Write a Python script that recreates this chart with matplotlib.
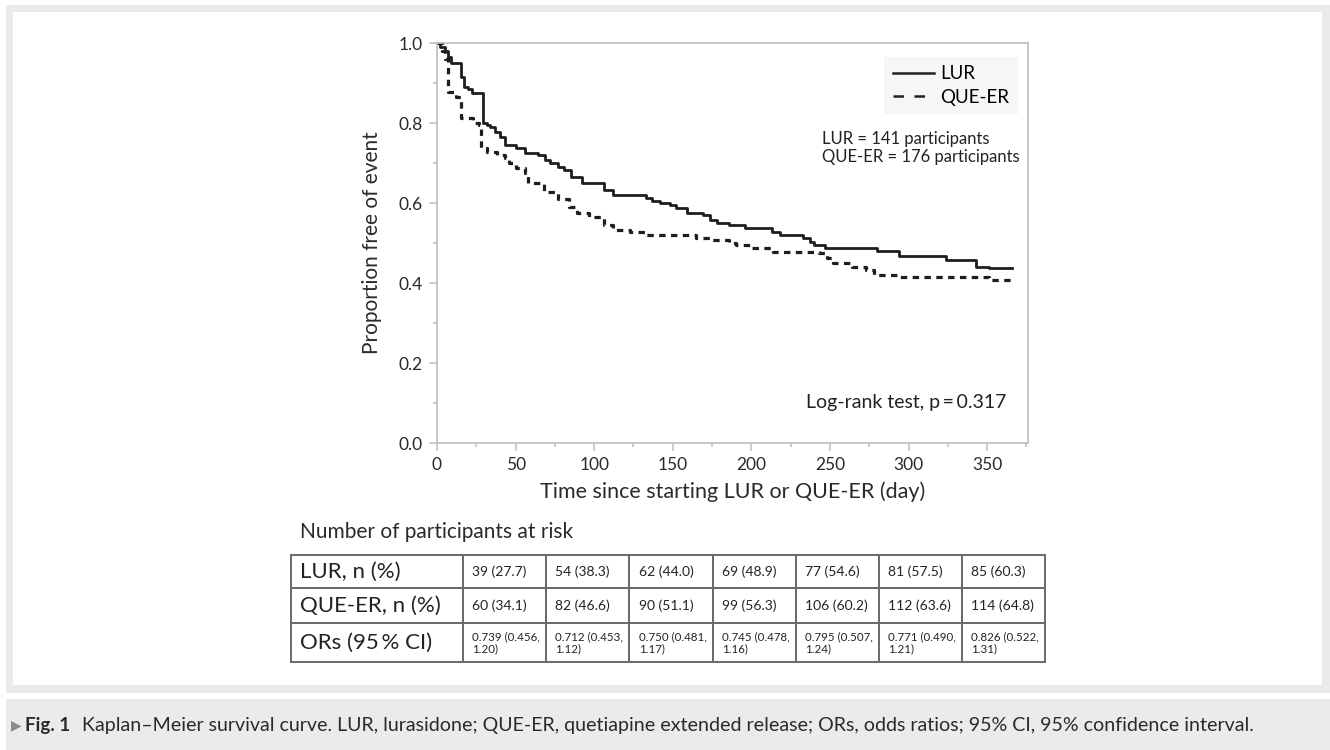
import matplotlib
matplotlib.use("Agg")
import matplotlib.pyplot as plt
from matplotlib.lines import Line2D
from matplotlib.patches import Rectangle

plt.rcParams["font.family"] = ["Lato", "DejaVu Sans"]

# Kaplan-Meier steps (day, proportion free of event)
lur_t = [0, 2, 5, 7, 9, 15, 17, 20, 22, 29, 32, 34, 37, 40, 43, 50, 56, 64, 69, 72,
         77, 81, 85, 92, 106, 112, 133, 137, 142, 148, 152, 159, 169, 174, 178, 186,
         196, 213, 218, 233, 237, 240, 247, 280, 294, 324, 343, 351, 366]
lur_s = [1.0, 0.99, 0.98, 0.965, 0.95, 0.915, 0.89, 0.885, 0.875, 0.80, 0.795, 0.79,
         0.778, 0.765, 0.745, 0.737, 0.725, 0.72, 0.708, 0.70, 0.69, 0.683, 0.665, 0.65,
         0.633, 0.62, 0.612, 0.605, 0.60, 0.595, 0.588, 0.575, 0.57, 0.558, 0.55, 0.545,
         0.538, 0.528, 0.52, 0.513, 0.503, 0.495, 0.488, 0.481, 0.468, 0.458, 0.44,
         0.437, 0.437]

que_t = [0, 3, 5, 7, 12, 15, 23, 27, 28, 32, 38, 43, 46, 50, 56, 58, 68, 77, 84, 89,
         97, 106, 112, 123, 133, 165, 175, 186, 190, 199, 214, 243, 248, 252, 264, 273,
         278, 294, 351, 366]
que_s = [1.0, 0.98, 0.96, 0.8775, 0.865, 0.8125, 0.80, 0.795, 0.7375, 0.7275, 0.72,
         0.7125, 0.70, 0.6875, 0.675, 0.65, 0.628, 0.61, 0.59, 0.575, 0.565, 0.545,
         0.5325, 0.5275, 0.52, 0.5125, 0.5075, 0.50, 0.495, 0.4875, 0.4775, 0.474,
         0.4625, 0.45, 0.44, 0.4325, 0.42, 0.415, 0.4075, 0.4075]

# numbers at risk table
lur_n = [39, 54, 62, 69, 77, 81, 85]
lur_pct = [27.7, 38.3, 44.0, 48.9, 54.6, 57.5, 60.3]
que_n = [60, 82, 90, 99, 106, 112, 114]
que_pct = [34.1, 46.6, 51.1, 56.3, 60.2, 63.6, 64.8]
or_est = [0.739, 0.712, 0.750, 0.745, 0.795, 0.771, 0.826]
or_lo = [0.456, 0.453, 0.481, 0.478, 0.507, 0.490, 0.522]
or_hi = [1.20, 1.12, 1.17, 1.16, 1.24, 1.21, 1.31]
row_labels = ["LUR, n (%)", "QUE-ER, n (%)", "ORs (95\u2009% CI)"]

W, H = 1330, 750
fig = plt.figure(figsize=(13.3, 7.5), dpi=100)

def px_rect(x0, y0, x1, y1, color):
    fig.patches.append(Rectangle((x0 / W, 1 - y1 / H), (x1 - x0) / W, (y1 - y0) / H,
                                 transform=fig.transFigure, facecolor=color,
                                 edgecolor="none", zorder=-10))

gray = "#ebebed"
px_rect(6, 5, 1330, 693, gray)
px_rect(13, 12, 1322, 685, "white")
px_rect(6, 699, 1330, 750, gray)

ax = fig.add_axes([437 / W, 1 - 443 / H, (1028 - 437) / W, 400 / H])
ax.step(lur_t, lur_s, where="post", color="#1e1e1e", lw=2.0)
ax.step(que_t, que_s, where="post", color="#1e1e1e", lw=2.3, dashes=(2.0, 1.7))

ax.set_xlim(0, 376)
ax.set_ylim(0, 1.0)
ax.set_xticks(range(0, 351, 50))
ax.set_xticks(range(25, 376, 50), minor=True)
ax.set_yticks([0, 0.2, 0.4, 0.6, 0.8, 1.0])
ax.set_yticks([0.1, 0.3, 0.5, 0.7, 0.9], minor=True)
ax.set_yticklabels(["0.0", "0.2", "0.4", "0.6", "0.8", "1.0"])
sc = "#bdbdbd"
for s in ax.spines.values():
    s.set_color(sc)
    s.set_linewidth(1.2)
ax.tick_params(which="major", length=6, width=1.1, color=sc, labelsize=12.5,
               labelcolor="#2a2a2a", pad=4)
ax.tick_params(which="minor", length=3, width=1.1, color=sc)
ax.set_xlabel("Time since starting LUR or QUE-ER (day)", fontsize=15.5, color="#2a2a2a",
              labelpad=6)
ax.set_ylabel("Proportion free of event", fontsize=15, color="#2a2a2a", labelpad=12)

handles = [Line2D([], [], color="#222222", lw=1.8),
           Line2D([], [], color="#222222", lw=1.8, dashes=(4.2, 4.2))]
leg = ax.legend(handles, ["LUR", "QUE-ER"], loc="upper right",
                bbox_to_anchor=(0.983, 0.965), borderaxespad=0, fontsize=13.5,
                frameon=True, fancybox=False, handlelength=2.2, handletextpad=0.35,
                borderpad=0.45, labelspacing=0.35)
leg.get_frame().set_facecolor("#f4f4f4")
leg.get_frame().set_edgecolor("none")

ax.text(0.651, 0.78, "LUR = 141 participants\nQUE-ER = 176 participants",
        transform=ax.transAxes, fontsize=12, va="top", ha="left", color="#222222",
        linespacing=1.15)
ax.text(0.964, 0.0875, "Log-rank test, p\u2009=\u20090.317", transform=ax.transAxes,
        fontsize=14, ha="right", va="baseline", color="#222222")

fig.text(300 / W, 1 - 532 / H, "Number of participants at risk", fontsize=15,
         va="center", ha="left", color="#2a2a2a")

# table
cells = [
    ["%d (%.1f)" % (n, p) for n, p in zip(lur_n, lur_pct)],
    ["%d (%.1f)" % (n, p) for n, p in zip(que_n, que_pct)],
    ["%.3f (%.3f,\n%.2f)" % (e, lo, hi) for e, lo, hi in zip(or_est, or_lo, or_hi)],
]
tab_ax = fig.add_axes([291 / W, 1 - 662 / H, (1045 - 291) / W, (662 - 555) / H])
tab_ax.axis("off")
rows = [[lab] + c for lab, c in zip(row_labels, cells)]
col_w = [172] + [83] * 7
tab = tab_ax.table(cellText=rows, colWidths=col_w, cellLoc="left", bbox=[0, 0, 1, 1])
tab.auto_set_font_size(False)
row_h = [33, 35, 39]
for (r, c), cell in tab.get_celld().items():
    cell.set_edgecolor("#6a6a6a")
    cell.set_linewidth(1.4)
    cell.set_height(row_h[r])
    cell.set_width(col_w[c])
    if c == 0:
        cell.PAD = 0.055
        cell.get_text().set_fontsize(16)
    else:
        cell.PAD = 0.11
        cell.get_text().set_fontsize(10 if r < 2 else 8.3)
        if r == 2:
            cell.get_text().set_linespacing(1.1)
    cell.get_text().set_color("#222222")

# caption
fig.text(11 / W, 1 - 725 / H, "\u25b6", fontsize=10, color="#8a8a8a", va="center",
         ha="left", family=["DejaVu Sans"])
fig.text(25 / W, 1 - 725 / H, "Fig. 1", fontsize=13.5, fontweight="bold",
         color="#2a2a2a", va="center", ha="left")
fig.text(82 / W, 1 - 725 / H,
         "Kaplan\u2013Meier survival curve. LUR, lurasidone; QUE-ER, quetiapine extended "
         "release; ORs, odds ratios; 95% CI, 95% confidence interval.",
         fontsize=14.1, color="#2a2a2a", va="center", ha="left")

fig.savefig("out.png", dpi=100, facecolor="white")
